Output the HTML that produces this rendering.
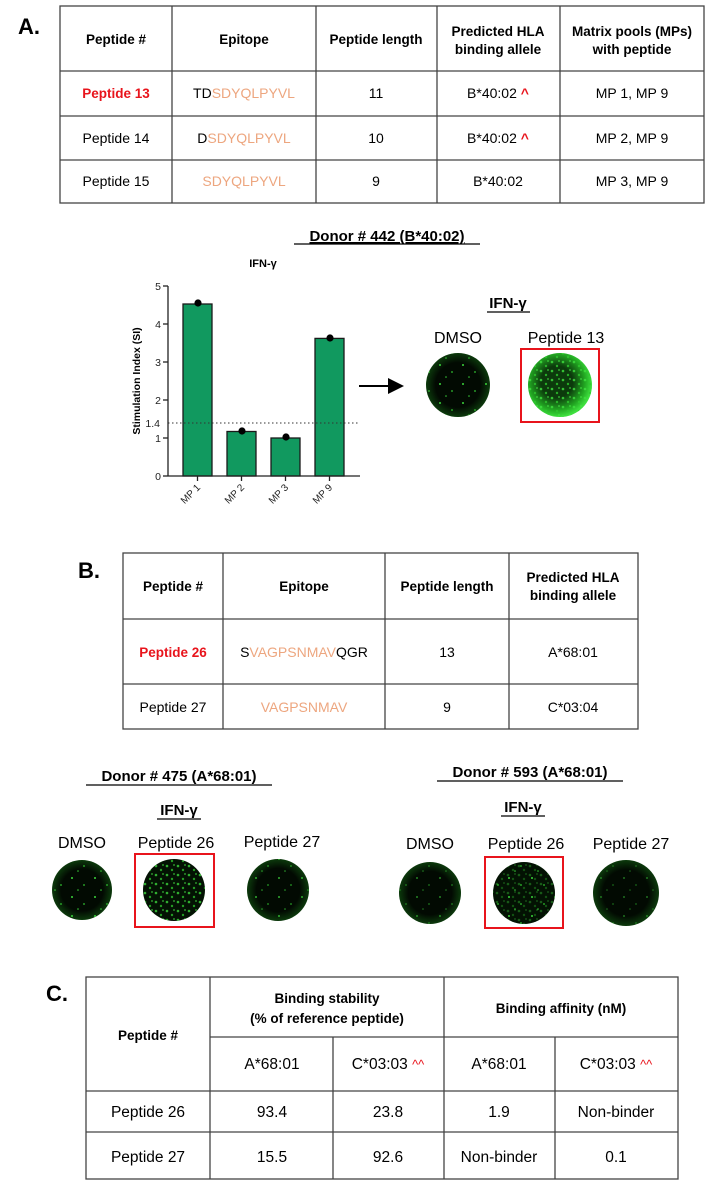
<!DOCTYPE html>
<html><head><meta charset="utf-8"><style>
html,body{margin:0;padding:0;background:#fff;}
svg{display:block;font-family:"Liberation Sans",Arial,sans-serif;}
.h{font-weight:bold;font-size:13.5px;}
.t{font-size:14px;}
.or{fill:#eda67f;}
</style></head><body>
<svg width="716" height="1185" viewBox="0 0 716 1185">
<defs>
<pattern id="sp1" width="23" height="19" patternUnits="userSpaceOnUse">
<circle cx="3" cy="4" r="1" fill="#3bd43b"/><circle cx="15" cy="11" r="0.9" fill="#2fbf2f"/><circle cx="9" cy="16" r="0.8" fill="#36c936"/>
</pattern>
<pattern id="sp2" width="11" height="9" patternUnits="userSpaceOnUse">
<circle cx="2" cy="2" r="1.3" fill="#3fe03f"/><circle cx="7" cy="6" r="1.2" fill="#2ec82e"/><circle cx="9" cy="1" r="0.9" fill="#44e844"/>
</pattern>
<radialGradient id="g13" cx="0.45" cy="0.45" r="0.55">
<stop offset="0.45" stop-color="#0c3a0c"/><stop offset="0.8" stop-color="#22a822"/><stop offset="1" stop-color="#3ee03e"/>
</radialGradient>
<radialGradient id="gd" cx="0.5" cy="0.5" r="0.5">
<stop offset="0.7" stop-color="#020a02"/><stop offset="1" stop-color="#0c3a0c"/>
</radialGradient>
<marker id="ar" markerWidth="8" markerHeight="8" refX="6" refY="4" orient="auto"><path d="M0,0 L8,4 L0,8 Z" fill="#000"/></marker>
</defs>

<!-- Section A -->
<text x="18" y="34" font-size="22" font-weight="bold">A.</text>
<g stroke="#444" stroke-width="1.3" fill="none">
<rect x="60" y="6" width="644" height="197"/>
<line x1="60" y1="71" x2="704" y2="71"/><line x1="60" y1="116" x2="704" y2="116"/><line x1="60" y1="160" x2="704" y2="160"/>
<line x1="172" y1="6" x2="172" y2="203"/><line x1="316" y1="6" x2="316" y2="203"/><line x1="437" y1="6" x2="437" y2="203"/><line x1="560" y1="6" x2="560" y2="203"/>
</g>
<g text-anchor="middle">
<text class="h" x="116" y="44">Peptide #</text>
<text class="h" x="244" y="44">Epitope</text>
<text class="h" x="376" y="44">Peptide length</text>
<text class="h" x="498" y="36">Predicted HLA</text><text class="h" x="498" y="54">binding allele</text>
<text class="h" x="632" y="36">Matrix pools (MPs)</text><text class="h" x="632" y="54">with peptide</text>
<text class="h" x="116" y="98" fill="#e8141c" font-size="14">Peptide 13</text>
<text class="t" x="244" y="98">TD<tspan class="or">SDYQLPYVL</tspan></text>
<text class="t" x="376" y="98">11</text>
<text class="t" x="498" y="98">B*40:02 <tspan fill="#e8141c" font-weight="bold">^</tspan></text>
<text class="t" x="632" y="98">MP 1, MP 9</text>
<text class="t" x="116" y="143">Peptide 14</text>
<text class="t" x="244" y="143">D<tspan class="or">SDYQLPYVL</tspan></text>
<text class="t" x="376" y="143">10</text>
<text class="t" x="498" y="143">B*40:02 <tspan fill="#e8141c" font-weight="bold">^</tspan></text>
<text class="t" x="632" y="143">MP 2, MP 9</text>
<text class="t" x="116" y="186">Peptide 15</text>
<text class="t" x="244" y="186" class="or" fill="#eda67f">SDYQLPYVL</text>
<text class="t" x="376" y="186">9</text>
<text class="t" x="498" y="186">B*40:02</text>
<text class="t" x="632" y="186">MP 3, MP 9</text>
</g>

<!-- Donor 442 -->
<text x="387" y="241" text-anchor="middle" font-size="15" font-weight="bold" text-decoration="underline">Donor # 442 (B*40:02)</text>
<line x1="294" y1="244" x2="480" y2="244" stroke="#000" stroke-width="1.2"/>
<text x="263" y="267" text-anchor="middle" font-size="11" font-weight="bold">IFN-γ</text>
<!-- chart -->
<g fill="#11995f" stroke="#1a1a1a" stroke-width="1.3">
<rect x="183" y="304" width="29" height="172"/>
<rect x="227" y="431.5" width="29" height="44.5"/>
<rect x="271" y="438" width="29" height="38"/>
<rect x="315" y="338.4" width="29" height="137.6"/>
</g>
<line x1="168" y1="423" x2="359" y2="423" stroke="#333" stroke-width="1" stroke-dasharray="1.5,2.5"/>
<g stroke="#222" stroke-width="1.3">
<line x1="168" y1="286" x2="168" y2="476"/><line x1="168" y1="476" x2="360" y2="476"/>
<line x1="163" y1="286" x2="168" y2="286"/><line x1="163" y1="324" x2="168" y2="324"/><line x1="163" y1="362" x2="168" y2="362"/><line x1="163" y1="400" x2="168" y2="400"/><line x1="163" y1="438" x2="168" y2="438"/><line x1="163" y1="476" x2="168" y2="476"/>
<line x1="197.5" y1="476" x2="197.5" y2="481"/><line x1="241.5" y1="476" x2="241.5" y2="481"/><line x1="285.5" y1="476" x2="285.5" y2="481"/><line x1="329.5" y1="476" x2="329.5" y2="481"/>
</g>
<g font-size="10.5" text-anchor="end" fill="#222">
<text x="161" y="290">5</text><text x="161" y="328">4</text><text x="161" y="366">3</text><text x="161" y="404">2</text><text x="161" y="442">1</text><text x="161" y="480">0</text><text x="160" y="427">1.4</text>
</g>
<text transform="translate(140,381) rotate(-90)" text-anchor="middle" font-size="10.5" font-weight="bold">Stimulation Index (SI)</text>
<g fill="#000"><circle cx="198" cy="303" r="3.6"/><circle cx="242" cy="431" r="3.6"/><circle cx="286" cy="437" r="3.6"/><circle cx="330" cy="338" r="3.6"/></g>
<g font-size="10" text-anchor="end" fill="#222">
<text transform="translate(201,488) rotate(-45)">MP 1</text>
<text transform="translate(245,488) rotate(-45)">MP 2</text>
<text transform="translate(289,488) rotate(-45)">MP 3</text>
<text transform="translate(333,488) rotate(-45)">MP 9</text>
</g>
<line x1="359" y1="386" x2="400" y2="386" stroke="#000" stroke-width="2" marker-end="url(#ar)"/>
<text x="508" y="308" text-anchor="middle" font-size="15" font-weight="bold">IFN-γ</text>
<line x1="487" y1="312" x2="530" y2="312" stroke="#000" stroke-width="1.2"/>
<text x="458" y="343" text-anchor="middle" font-size="16">DMSO</text>
<text x="566" y="343" text-anchor="middle" font-size="16">Peptide 13</text>
<circle cx="458" cy="385" r="32" fill="url(#gd)"/><circle cx="458" cy="385" r="32" fill="url(#sp1)"/>
<circle cx="560" cy="385" r="32" fill="url(#g13)"/><circle cx="560" cy="385" r="32" fill="url(#sp2)" opacity="0.8"/>
<rect x="521" y="349" width="78" height="73" fill="none" stroke="#e8141c" stroke-width="2"/>

<!-- Section B -->
<text x="78" y="578" font-size="22" font-weight="bold">B.</text>
<g stroke="#444" stroke-width="1.3" fill="none">
<rect x="123" y="553" width="515" height="176"/>
<line x1="123" y1="619" x2="638" y2="619"/><line x1="123" y1="684" x2="638" y2="684"/>
<line x1="223" y1="553" x2="223" y2="729"/><line x1="385" y1="553" x2="385" y2="729"/><line x1="509" y1="553" x2="509" y2="729"/>
</g>
<g text-anchor="middle">
<text class="h" x="173" y="591">Peptide #</text>
<text class="h" x="304" y="591">Epitope</text>
<text class="h" x="447" y="591">Peptide length</text>
<text class="h" x="573" y="582">Predicted HLA</text><text class="h" x="573" y="600">binding allele</text>
<text class="h" x="173" y="657" fill="#e8141c" font-size="14">Peptide 26</text>
<text class="t" x="304" y="657">S<tspan class="or">VAGPSNMAV</tspan>QGR</text>
<text class="t" x="447" y="657">13</text>
<text class="t" x="573" y="657">A*68:01</text>
<text class="t" x="173" y="712">Peptide 27</text>
<text class="t" x="304" y="712" fill="#eda67f">VAGPSNMAV</text>
<text class="t" x="447" y="712">9</text>
<text class="t" x="573" y="712">C*03:04</text>
</g>

<!-- Donor 475 -->
<text x="179" y="781" text-anchor="middle" font-size="15" font-weight="bold">Donor # 475 (A*68:01)</text>
<line x1="86" y1="785" x2="272" y2="785" stroke="#000" stroke-width="1.2"/>
<text x="179" y="815" text-anchor="middle" font-size="15" font-weight="bold">IFN-γ</text>
<line x1="157" y1="819" x2="201" y2="819" stroke="#000" stroke-width="1.2"/>
<g font-size="16" text-anchor="middle">
<text x="82" y="848">DMSO</text><text x="176" y="848">Peptide 26</text><text x="282" y="847">Peptide 27</text>
</g>
<circle cx="82" cy="890" r="30" fill="url(#gd)"/><circle cx="82" cy="890" r="30" fill="url(#sp1)"/>
<circle cx="174" cy="890" r="31" fill="#031203"/><circle cx="174" cy="890" r="31" fill="url(#sp2)" opacity="0.75"/>
<circle cx="278" cy="890" r="31" fill="url(#gd)"/><circle cx="278" cy="890" r="31" fill="url(#sp1)" opacity="0.8"/>
<rect x="135" y="854" width="79" height="73" fill="none" stroke="#e8141c" stroke-width="2"/>

<!-- Donor 593 -->
<text x="530" y="777" text-anchor="middle" font-size="15" font-weight="bold">Donor # 593 (A*68:01)</text>
<line x1="437" y1="781" x2="623" y2="781" stroke="#000" stroke-width="1.2"/>
<text x="523" y="812" text-anchor="middle" font-size="15" font-weight="bold">IFN-γ</text>
<line x1="501" y1="816" x2="545" y2="816" stroke="#000" stroke-width="1.2"/>
<g font-size="16" text-anchor="middle">
<text x="430" y="849">DMSO</text><text x="526" y="849">Peptide 26</text><text x="631" y="849">Peptide 27</text>
</g>
<circle cx="430" cy="893" r="31" fill="url(#gd)"/><circle cx="430" cy="893" r="31" fill="url(#sp1)" opacity="0.6"/>
<circle cx="524" cy="893" r="31" fill="#031203"/><circle cx="524" cy="893" r="31" fill="url(#sp1)"/><circle cx="524" cy="893" r="31" fill="url(#sp2)" opacity="0.35"/>
<circle cx="626" cy="893" r="33" fill="url(#gd)"/><circle cx="626" cy="893" r="33" fill="url(#sp1)" opacity="0.5"/>
<rect x="485" y="857" width="78" height="71" fill="none" stroke="#e8141c" stroke-width="2"/>

<!-- Section C -->
<text x="46" y="1001" font-size="22" font-weight="bold">C.</text>
<g stroke="#444" stroke-width="1.3" fill="none">
<rect x="86" y="977" width="592" height="202"/>
<line x1="210" y1="1037" x2="678" y2="1037"/><line x1="86" y1="1091" x2="678" y2="1091"/><line x1="86" y1="1132" x2="678" y2="1132"/>
<line x1="210" y1="977" x2="210" y2="1179"/><line x1="444" y1="977" x2="444" y2="1179"/>
<line x1="333" y1="1037" x2="333" y2="1179"/><line x1="555" y1="1037" x2="555" y2="1179"/>
</g>
<g text-anchor="middle">
<text class="h" x="148" y="1040" font-size="15">Peptide #</text>
<text class="h" x="327" y="1003" font-size="15">Binding stability</text>
<text class="h" x="327" y="1023" font-size="15">(% of reference peptide)</text>
<text class="h" x="561" y="1013" font-size="15">Binding affinity (nM)</text>
<g font-size="15.5">
<text x="272" y="1069">A*68:01</text>
<text x="388" y="1069">C*03:03 <tspan fill="#e8141c" font-size="13">^^</tspan></text>
<text x="499" y="1069">A*68:01</text>
<text x="616" y="1069">C*03:03 <tspan fill="#e8141c" font-size="13">^^</tspan></text>
<text x="148" y="1117">Peptide 26</text><text x="272" y="1117">93.4</text><text x="388" y="1117">23.8</text><text x="499" y="1117">1.9</text><text x="616" y="1117">Non-binder</text>
<text x="148" y="1162">Peptide 27</text><text x="272" y="1162">15.5</text><text x="388" y="1162">92.6</text><text x="499" y="1162">Non-binder</text><text x="616" y="1162">0.1</text>
</g>
</g>
</svg>
</body></html>
